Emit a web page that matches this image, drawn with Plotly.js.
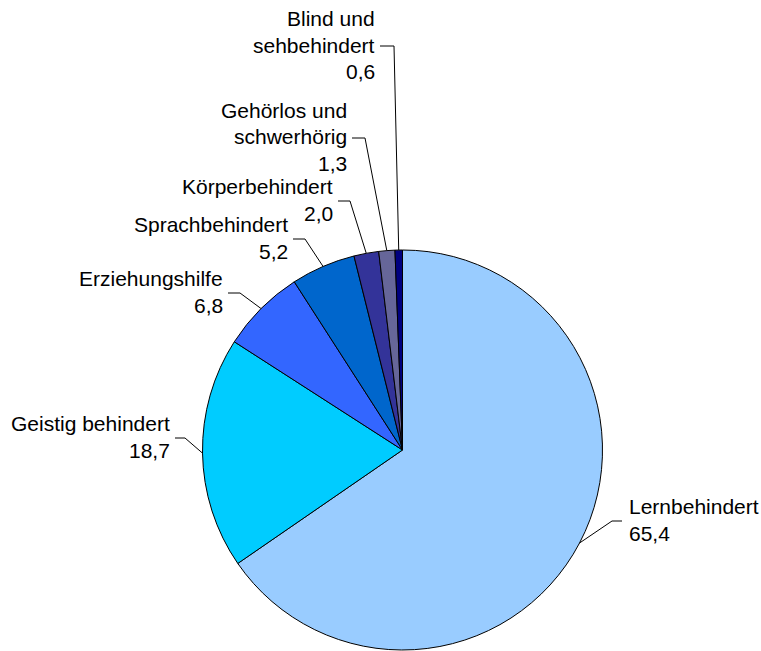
<!DOCTYPE html>
<html><head><meta charset="utf-8">
<script src="https://cdn.plot.ly/plotly-3.0.1.min.js"></script>
<style>html,body{margin:0;padding:0;background:#fff}#chart{width:761px;height:651px}</style>
</head><body><div id="chart"></div>
<script>
// Data
const categories = ["Lernbehindert", "Geistig behindert", "Erziehungshilfe", "Sprachbehindert", "Körperbehindert", "Gehörlos und schwerhörig", "Blind und sehbehindert"];
const labelLines = [["Lernbehindert"], ["Geistig behindert"], ["Erziehungshilfe"], ["Sprachbehindert"], ["Körperbehindert"], ["Gehörlos und", "schwerhörig"], ["Blind und", "sehbehindert"]];
const values = [65.4, 18.7, 6.8, 5.2, 2.0, 1.3, 0.6];
const colors = ["#99CCFF", "#00CCFF", "#3366FF", "#0066CC", "#333399", "#666699", "#000080"];

// Layout (pixel) settings
const W = 761, H = 651;
const cx = 402.5, cy = 450, R = 200;
// leader line elbow (x, y), end of horizontal stub (x), label side
const elbows = [[612, 521, 622, 'left'], [185, 438, 175, 'right'], [240, 293, 228, 'right'], [305, 239, 293, 'right'], [350, 201, 338, 'right'], [365, 138, 352, 'right'], [394, 46, 380, 'right']];
const lineH = 26.5;

const px = x => x / W, py = y => 1 - y / H;
const fmt = v => v.toFixed(1).replace('.', ',');

const total = values.reduce((a, b) => a + b, 0);
let cum = 0;
const shapes = [], annotations = [];
values.forEach((v, i) => {
  const th = 2 * Math.PI * (cum + v / 2) / total;
  cum += v;
  const ex = cx + R * Math.sin(th), ey = cy - R * Math.cos(th);
  const [bx, by, hx, side] = elbows[i];
  shapes.push({type: 'path', xref: 'paper', yref: 'paper',
    path: `M ${px(ex)},${py(ey)} L ${px(bx)},${py(by)} L ${px(hx)},${py(by)}`,
    line: {color: '#000', width: 1}});
  const lines = labelLines[i].concat([fmt(v)]);
  const tx = side === 'left' ? hx + 5.5 : hx - 4.5;
  const firstY = by - 1 - (lines.length - 1) * lineH / 2;
  lines.forEach((t, k) => {
    annotations.push({xref: 'paper', yref: 'paper', x: px(tx), y: py(firstY + k * lineH),
      text: t, showarrow: false, xanchor: side === 'left' ? 'left' : 'right', yanchor: 'middle',
      borderpad: 0, font: {family: 'Liberation Sans, Arial, sans-serif', size: 21, color: '#000'}});
  });
});

const trace = {
  type: 'pie', labels: categories, values: values, sort: false, direction: 'clockwise', rotation: 0,
  marker: {colors: colors, line: {color: '#000', width: 1}},
  textinfo: 'none', hoverinfo: 'label+value', showlegend: false,
  domain: {x: [px(cx - R), px(cx + R)], y: [py(cy + R), py(cy - R)]}
};
Plotly.newPlot('chart', [trace], {
  width: W, height: H, margin: {l: 0, r: 0, t: 0, b: 0},
  paper_bgcolor: '#fff', plot_bgcolor: '#fff', showlegend: false,
  shapes: shapes, annotations: annotations
}, {displayModeBar: false, staticPlot: true});
</script></body></html>
